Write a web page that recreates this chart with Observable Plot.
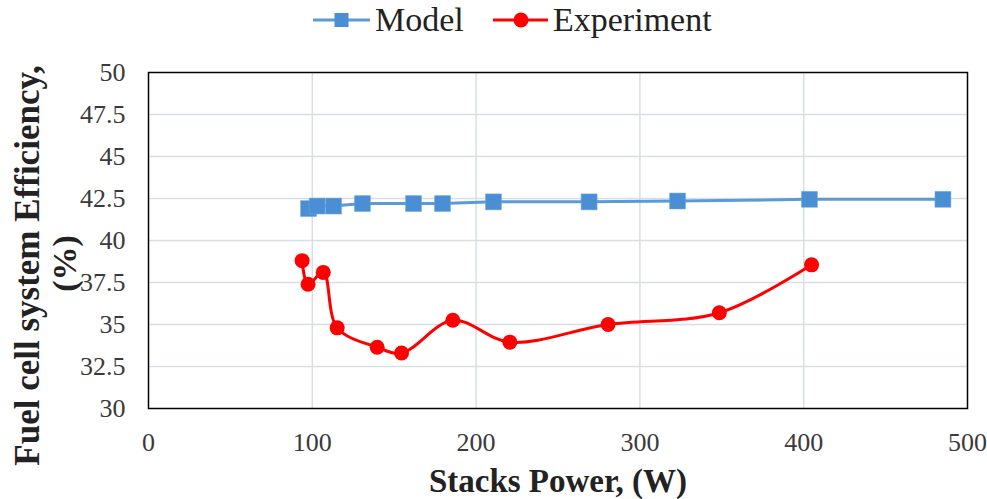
<!DOCTYPE html>
<html>
<head>
<meta charset="utf-8">
<script src="https://cdn.jsdelivr.net/npm/d3@7"></script>
<script src="https://cdn.jsdelivr.net/npm/@observablehq/plot@0.6"></script>
<style>
  html, body { margin: 0; padding: 0; background: #fff; }
  body { width: 987px; height: 499px; overflow: hidden; font-family: "Liberation Serif", "Times New Roman", serif; }
  #legend { position: relative; height: 45px; width: 987px; }
  #legend .item { position: absolute; top: -3px; height: 45px; display: flex; align-items: center; }
  #legend span { font-family: "Liberation Serif", serif; font-size: 34px; color: #222; line-height: 1; }
  #chart svg { display: block; }
</style>
</head>
<body>
<div id="legend">
  <div class="item" style="left:313px">
    <svg width="57" height="20"><line x1="0" y1="10" x2="57" y2="10" stroke="#5b9bd5" stroke-width="3"/><rect x="21.5" y="3" width="14" height="14" fill="#4a8fd3"/></svg>
    <span style="margin-left:5px">Model</span>
  </div>
  <div class="item" style="left:493px">
    <svg width="55" height="20"><line x1="0" y1="10" x2="55" y2="10" stroke="#ff0000" stroke-width="3"/><circle cx="28" cy="10" r="7.5" fill="#ff0000"/></svg>
    <span style="margin-left:5px">Experiment</span>
  </div>
</div>
<div id="chart"></div>
<script>
const modelPower = [97.7, 103, 113, 130.6, 161.8, 179.5, 210.6, 269, 323, 403.5, 485];
const modelEff   = [41.9, 42.05, 42.05, 42.2, 42.2, 42.2, 42.3, 42.3, 42.35, 42.45, 42.45];
const expPower   = [93.8, 97.4, 106.7, 115.2, 139.6, 154.5, 185.8, 220.6, 280.6, 348.5, 404.8];
const expEff     = [38.8, 37.4, 38.1, 34.8, 33.65, 33.3, 35.25, 33.95, 35.0, 35.7, 38.55];
const xTicks = [0, 100, 200, 300, 400, 500];
const yTicks = [30, 32.5, 35, 37.5, 40, 42.5, 45, 47.5, 50];
const xTitle = "Stacks Power, (W)";
const yTitle1 = "Fuel cell system Efficiency,";
const yTitle2 = "(%)";

const model = modelPower.map((p, i) => ({power: p, eff: modelEff[i]}));
const exp = expPower.map((p, i) => ({power: p, eff: expEff[i]}));

const serif = "Liberation Serif, serif";

const chart = Plot.plot({
  width: 987,
  height: 454,
  marginLeft: 148,
  marginRight: 20,
  marginTop: 27,
  marginBottom: 91,
  style: {fontFamily: serif, fontSize: "26px", color: "#333", background: "#fff"},
  x: {domain: [0, 500], axis: null},
  y: {domain: [30, 50], axis: null},
  marks: [
    Plot.gridX(xTicks.slice(1, -1), {stroke: "#d9dee6", strokeOpacity: 1, strokeWidth: 1.5}),
    Plot.gridY(yTicks.slice(1, -1), {stroke: "#d9dee6", strokeOpacity: 1, strokeWidth: 1.5}),
    Plot.text(xTicks, {x: d => d, frameAnchor: "bottom", lineAnchor: "top", textAnchor: "middle", dy: 24, fontSize: 26, fontFamily: serif, fill: "#3a3a3a", text: d => String(d)}),
    Plot.text(yTicks, {y: d => d, frameAnchor: "left", textAnchor: "end", dx: -23, fontSize: 26, fontFamily: serif, fill: "#3a3a3a", text: d => String(d)}),
    Plot.frame({stroke: "#000", strokeWidth: 1.5}),
    Plot.line(model, {x: "power", y: "eff", stroke: "#5b9bd5", strokeWidth: 3}),
    Plot.dot(model, {x: "power", y: "eff", symbol: "square", r: 9, fill: "#4a8fd3", stroke: "#6fa8dc", strokeWidth: 0.5}),
    Plot.line(exp, {x: "power", y: "eff", stroke: "#ff0000", strokeWidth: 3, curve: "catmull-rom"}),
    Plot.dot(exp, {x: "power", y: "eff", r: 7.5, fill: "#ff0000"}),
    Plot.text([xTitle], {frameAnchor: "bottom", textAnchor: "middle", dy: 83, fontSize: 33, fontWeight: "bold", fill: "#222", fontFamily: serif}),
    Plot.text([yTitle1], {frameAnchor: "left", textAnchor: "middle", dx: -121, dy: 25, rotate: -90, fontSize: 35, fontWeight: "bold", fill: "#222", fontFamily: serif}),
    Plot.text([yTitle2], {frameAnchor: "left", textAnchor: "middle", dx: -83, dy: 23, rotate: -90, fontSize: 34, fontWeight: "bold", fill: "#222", fontFamily: serif})
  ]
});
document.getElementById("chart").appendChild(chart);
</script>
</body>
</html>
